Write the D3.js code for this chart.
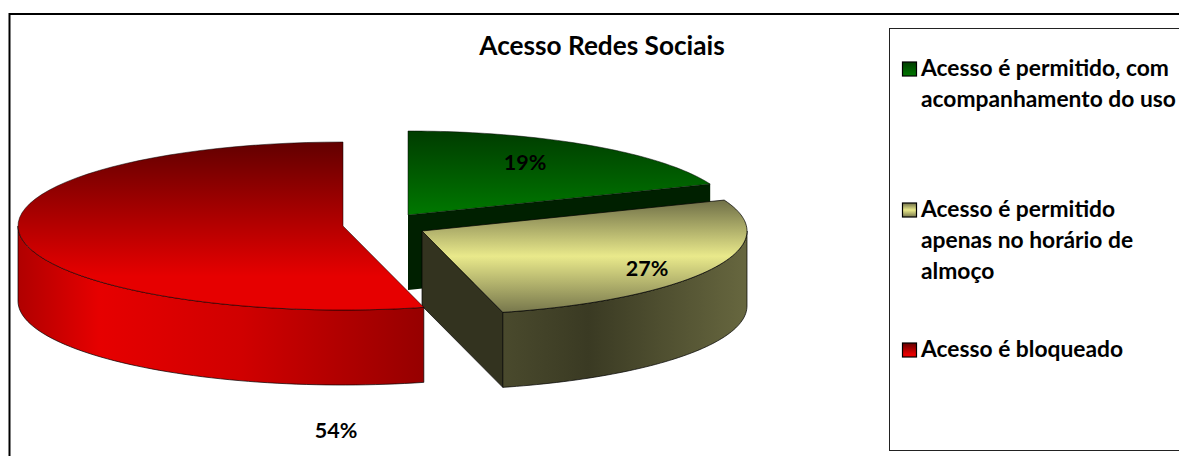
<!DOCTYPE html>
<html>
<head>
<meta charset="utf-8">
<script src="https://cdn.jsdelivr.net/npm/d3@7"></script>
<style>
    html, body { margin: 0; padding: 0; background: #fff; overflow: hidden; }
    text { font-family: Lato, Carlito, "Open Sans", sans-serif; font-weight: 700; fill: #000; }
</style>
</head>
<body>
<div id="chart"></div>
<script>
// data
var categories = ['Acesso é permitido, com acompanhamento do uso',
    'Acesso é permitido apenas no horário de almoço',
    'Acesso é bloqueado'];
var shares = [19, 27, 54];
var title = 'Acesso Redes Sociais';
var legendLines = [['Acesso é permitido, com', 'acompanhamento do uso'],
    ['Acesso é permitido', 'apenas no horário de', 'almoço'],
    ['Acesso é bloqueado']];

// size of the svg
var w = 1179, h = 456;

// pie geometry, each slice is pulled out so it has its own centre
var rx = 325, ry = 84, depth = 75;
var centres = [[408, 215], [422, 231], [343, 226]];
var labelPos = [[525, 170], [647, 276], [336, 438]];
var legendY = [76, 217, 357];

var topColors = [
    [[0, '#003c00'], [1, '#007800']],
    [[0, '#6f6f47'], [0.5, '#e9e98b'], [1, '#77774c']],
    [[0, '#620000'], [0.8, '#e60000'], [1, '#e60000']]
];
var sideColors = [
    [[0, '#002000'], [1, '#002000']],
    [[0, '#4a4a2d'], [0.35, '#3a3a23'], [1, '#67673f']],
    [[0, '#b00000'], [0.2, '#e60000'], [0.55, '#d00000'], [1, '#960000']]
];
var cutColors = ['#002000', '#33331f', '#960000'];

var svg = d3.select('#chart')
    .append('svg')
    .attr('width', w)
    .attr('height', h);

var defs = svg.append('defs');

function addGradient(id, stops, horizontal) {
    var g = defs.append('linearGradient')
        .attr('id', id)
        .attr('x1', 0).attr('y1', 0)
        .attr('x2', horizontal ? 1 : 0)
        .attr('y2', horizontal ? 0 : 1);
    stops.forEach(function (s) {
        g.append('stop').attr('offset', s[0]).attr('stop-color', s[1]);
    });
}

topColors.forEach(function (c, i) { addGradient('top' + i, c, false); });
sideColors.forEach(function (c, i) { addGradient('side' + i, c, true); });

// outer frame and legend box
svg.append('path')
    .attr('d', 'M9.5,' + h + 'V14H' + w)
    .attr('fill', 'none')
    .attr('stroke', '#000')
    .attr('stroke-width', 2);

svg.append('rect')
    .attr('x', 889.5).attr('y', 28.5)
    .attr('width', 320).attr('height', 422)
    .attr('fill', '#fff')
    .attr('stroke', '#222')
    .attr('stroke-width', 1);

svg.append('text')
    .attr('x', 602).attr('y', 55)
    .attr('text-anchor', 'middle')
    .style('font-size', '26.2px')
    .text(title);

var pie = d3.pie().sort(null).value(function (d) { return d; });
var slices = pie(shares);

// angle is clockwise from the top, like d3.pie gives it
function ellipsePoint(i, a, dy) {
    return [centres[i][0] + rx * Math.sin(a), centres[i][1] - ry * Math.cos(a) + (dy || 0)];
}

function rim(i, a0, a1, dy) {
    var n = 60;
    return d3.range(n + 1).map(function (k) {
        return ellipsePoint(i, a0 + (a1 - a0) * k / n, dy);
    });
}

var line = d3.line();

function drawSlice(d, i) {
    var g = svg.append('g').attr('class', 'slice');
    var c = centres[i];
    var edge = { stroke: '#000', width: 0.7 };

    // cut faces seen from the front
    if (i < 2) {
        var p = ellipsePoint(i, d.endAngle);
        g.append('path')
            .attr('d', line([c, p, [p[0], p[1] + depth], [c[0], c[1] + depth]]) + 'Z')
            .attr('fill', cutColors[i])
            .attr('stroke', i == 1 ? edge.stroke : 'none')
            .attr('stroke-width', edge.width);
    }

    // outer wall, only the part that faces the viewer
    var a0 = Math.max(d.startAngle, Math.PI / 2);
    var a1 = Math.min(d.endAngle, Math.PI * 1.5);
    if (a1 > a0) {
        var pts = rim(i, a0, a1, 0).concat(rim(i, a1, a0, depth));
        g.append('path')
            .attr('d', line(pts) + 'Z')
            .attr('fill', 'url(#side' + i + ')')
            .attr('stroke', edge.stroke)
            .attr('stroke-width', edge.width);
    }

    // top face
    g.append('path')
        .attr('d', line([c].concat(rim(i, d.startAngle, d.endAngle, 0))) + 'Z')
        .attr('fill', 'url(#top' + i + ')')
        .attr('stroke', edge.stroke)
        .attr('stroke-width', i == 1 ? 0.7 : 0.5);
}

slices.forEach(drawSlice);

// percent labels
svg.append('g').selectAll('text')
    .data(slices)
    .enter()
    .append('text')
    .attr('x', function (d, i) { return labelPos[i][0]; })
    .attr('y', function (d, i) { return labelPos[i][1]; })
    .attr('text-anchor', 'middle')
    .style('font-size', '21.5px')
    .text(function (d) { return d.value + '%'; });

// legend
var legend = svg.append('g').selectAll('g')
    .data(categories)
    .enter()
    .append('g');

legend.append('rect')
    .attr('x', 902.5)
    .attr('y', function (d, i) { return legendY[i] - 14; })
    .attr('width', 14)
    .attr('height', 14)
    .attr('fill', function (d, i) { return 'url(#top' + i + ')'; })
    .attr('stroke', '#000')
    .attr('stroke-width', 1.2);

legend.each(function (d, i) {
    d3.select(this).selectAll('text')
        .data(legendLines[i])
        .enter()
        .append('text')
        .attr('x', 921)
        .attr('y', function (t, k) { return legendY[i] + k * 31; })
        .style('font-size', '22.8px')
        .text(function (t) { return t; });
});
</script>
</body>
</html>
